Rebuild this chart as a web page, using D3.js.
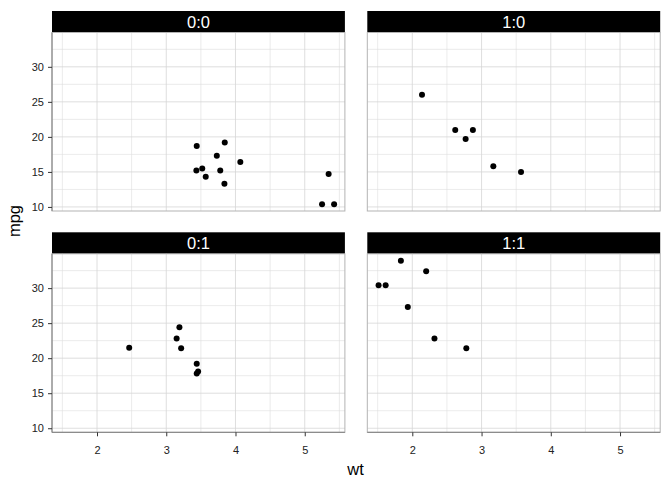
<!DOCTYPE html>
<html>
<head>
<meta charset="utf-8">
<script src="https://cdn.jsdelivr.net/npm/d3@7"></script>
<style>
  body { margin: 0; background: #fff; }
  svg { font-family: "Liberation Sans", Arial, sans-serif; }
</style>
</head>
<body>
<div id="graph"></div>
<script>
// mtcars: weight (1000 lbs), miles per gallon, transmission (am), engine shape (vs)
var carWt  = [2.62, 2.875, 2.32, 3.215, 3.44, 3.46, 3.57, 3.19, 3.15, 3.44, 3.44, 4.07, 3.73, 3.78, 5.25, 5.424,
              5.345, 2.2, 1.615, 1.835, 2.465, 3.52, 3.435, 3.84, 3.845, 1.935, 2.14, 1.513, 3.17, 2.77, 3.57, 2.78];
var carMpg = [21.0, 21.0, 22.8, 21.4, 18.7, 18.1, 14.3, 24.4, 22.8, 19.2, 17.8, 16.4, 17.3, 15.2, 10.4, 10.4,
              14.7, 32.4, 30.4, 33.9, 21.5, 15.5, 15.2, 13.3, 19.2, 27.3, 26.0, 30.4, 15.8, 19.7, 15.0, 21.4];
var carAm  = [1, 1, 1, 0, 0, 0, 0, 0, 0, 0, 0, 0, 0, 0, 0, 0, 0, 1, 1, 1, 0, 0, 0, 0, 0, 1, 1, 1, 1, 1, 1, 1];
var carVs  = [0, 0, 1, 1, 0, 1, 0, 1, 1, 1, 1, 0, 0, 0, 0, 0, 0, 1, 1, 1, 1, 0, 0, 0, 0, 1, 0, 1, 0, 0, 0, 1];

// facet columns are am, rows are vs
var facetAm = [0, 1];
var facetVs = [0, 1];
var xTicks = [2, 3, 4, 5];
var yTicks = [10, 15, 20, 25, 30];
var xMinor = [1.5, 2.5, 3.5, 4.5, 5.5];
var yMinor = [12.5, 17.5, 22.5, 27.5, 32.5];

var w = 672, h = 480;
var svg = d3.select("div#graph").append("svg")
	.attr("width", w)
	.attr("height", h);

// panel geometry
var colX = [52, 367.3], panelW = 292.9;
var rowY = [11, 232.3], stripH = 21.5, panelH = 178.5;

var x = d3.scaleLinear().domain([1.35, 5.58]).range([0, panelW]);
var y = d3.scaleLinear().domain([9.42, 34.9]).range([panelH, 0]);

var points = carWt.map(function(d, i) { return {"wt": d, "mpg": carMpg[i], "am": carAm[i], "vs": carVs[i]}; });

facetVs.forEach(function(vs, r) {
	facetAm.forEach(function(am, c) {
		var px = colX[c], py = rowY[r] + stripH;
		// strip
		svg.append("rect")
			.attr("x", px).attr("y", rowY[r])
			.attr("width", panelW).attr("height", stripH)
			.attr("fill", "#000");
		svg.append("text")
			.attr("x", px + panelW / 2).attr("y", rowY[r] + stripH / 2)
			.attr("dy", "0.36em")
			.attr("text-anchor", "middle")
			.attr("fill", "#fff")
			.style("font-size", "16.5px")
			.text(am + ":" + vs);

		var g = svg.append("g").attr("transform", "translate(" + px + "," + py + ")");
		// grid lines (minor then major)
		g.selectAll("line.vminor").data(xMinor.filter(function(d) { return d > x.domain()[0] && d < x.domain()[1]; }))
			.enter().append("line")
			.attr("x1", function(d) { return x(d); }).attr("x2", function(d) { return x(d); })
			.attr("y1", 0).attr("y2", panelH)
			.style("stroke", "#dedede").style("stroke-width", "0.6px");
		g.selectAll("line.hminor").data(yMinor)
			.enter().append("line")
			.attr("y1", function(d) { return y(d); }).attr("y2", function(d) { return y(d); })
			.attr("x1", 0).attr("x2", panelW)
			.style("stroke", "#dedede").style("stroke-width", "0.6px");
		g.selectAll("line.vmajor").data(xTicks)
			.enter().append("line")
			.attr("x1", function(d) { return x(d); }).attr("x2", function(d) { return x(d); })
			.attr("y1", 0).attr("y2", panelH)
			.style("stroke", "#d6d6d6").style("stroke-width", "0.8px");
		g.selectAll("line.hmajor").data(yTicks)
			.enter().append("line")
			.attr("y1", function(d) { return y(d); }).attr("y2", function(d) { return y(d); })
			.attr("x1", 0).attr("x2", panelW)
			.style("stroke", "#d6d6d6").style("stroke-width", "0.8px");
		// panel border
		g.append("rect")
			.attr("width", panelW).attr("height", panelH)
			.attr("fill", "none")
			.style("stroke", "#b3b3b3").style("stroke-width", "1px");

		// axes on outer edges
		if (c == 0) {
			var ay = g.append("g").call(d3.axisLeft(y).tickValues(yTicks).tickSize(4).tickPadding(4));
			ay.select(".domain").attr("d", "M0,0V" + panelH).style("stroke", "#7f7f7f");
			ay.selectAll(".tick line").style("stroke", "#333");
			ay.selectAll("text").attr("fill", "#222").style("font-size", "11px").style("font-family", "Liberation Sans, Arial, sans-serif");
		}
		if (r == 1) {
			var ax = g.append("g").attr("transform", "translate(0," + panelH + ")")
				.call(d3.axisBottom(x).tickValues(xTicks).tickFormat(d3.format("d")).tickSize(4).tickPadding(9.5));
			ax.select(".domain").attr("d", "M0,0H" + panelW).style("stroke", "#7f7f7f");
			ax.selectAll(".tick line").style("stroke", "#333");
			ax.selectAll("text").attr("fill", "#222").style("font-size", "11px").style("font-family", "Liberation Sans, Arial, sans-serif");
		}

		// points
		g.selectAll("circle.pt")
			.data(points.filter(function(d) { return d.am == am && d.vs == vs; }))
			.enter().append("circle")
			.attr("class", "pt")
			.attr("cx", function(d) { return x(d.wt); })
			.attr("cy", function(d) { return y(d.mpg); })
			.attr("r", 3)
			.attr("fill", "#000");
	});
});

// axis titles
svg.append("text")
	.attr("x", 355.5).attr("y", 475)
	.attr("text-anchor", "middle")
	.attr("fill", "#000")
	.style("font-size", "16.5px")
	.text("wt");
svg.append("text")
	.attr("transform", "translate(20,221) rotate(-90)")
	.attr("text-anchor", "middle")
	.attr("fill", "#000")
	.style("font-size", "16.5px")
	.text("mpg");
</script>
</body>
</html>
